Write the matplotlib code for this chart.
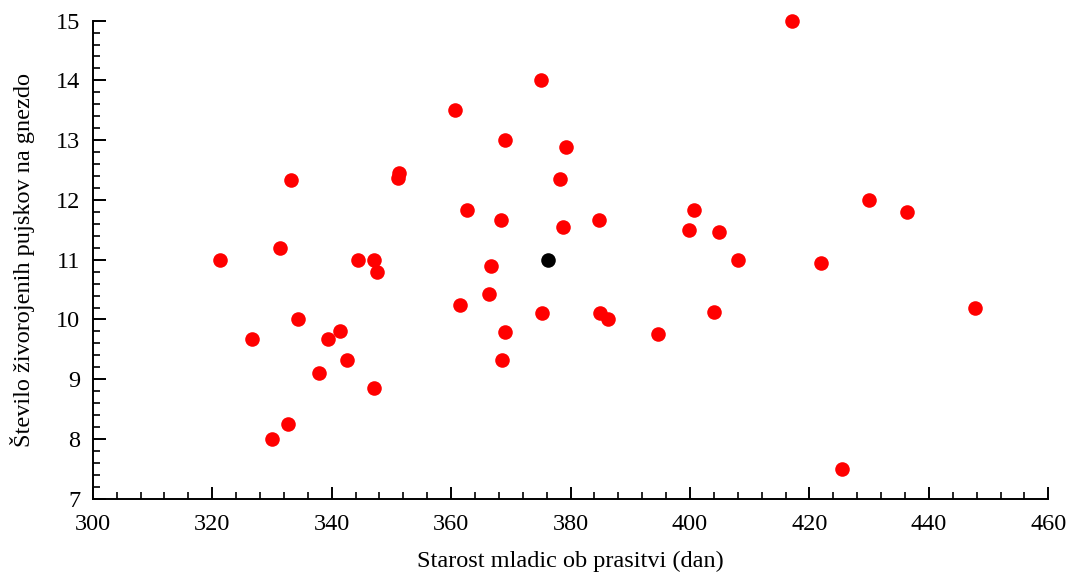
import matplotlib.pyplot as plt
from matplotlib.ticker import MultipleLocator

plt.rcParams['font.family'] = ['Liberation Serif', 'DejaVu Serif']

# starost mladic ob prasitvi (dan) / stevilo zivorojenih pujskov na gnezdo
starost = [321.3, 326.6, 330.0, 331.3, 332.7, 333.2, 334.3, 337.9, 339.4, 341.4,
           342.6, 344.4, 347.1, 347.1, 347.6, 351.2, 351.1, 360.6, 361.5, 362.6,
           366.3, 366.6, 368.3, 368.6, 369.0, 369.0, 375.0, 375.2, 378.3, 378.7,
           379.3, 384.7, 385.0, 386.2, 394.6, 399.8, 400.6, 404.1, 404.8, 408.1,
           417.0, 422.0, 425.4, 429.9, 436.3, 447.7]
pujski = [11.0, 9.67, 8.0, 11.2, 8.25, 12.33, 10.0, 9.1, 9.67, 9.8,
          9.33, 11.0, 11.0, 8.85, 10.8, 12.45, 12.37, 13.5, 10.25, 11.83,
          10.42, 10.89, 11.67, 9.33, 13.0, 9.79, 14.0, 10.1, 12.35, 11.55,
          12.89, 11.67, 10.1, 10.0, 9.75, 11.5, 11.83, 10.13, 11.46, 11.0,
          15.0, 10.94, 7.5, 12.0, 11.8, 10.2]

# povprecje
mean_x = [376.2]
mean_y = [11.0]

fig = plt.figure(figsize=(10.74, 5.72), dpi=100)
ax = fig.add_axes([0.0864, 0.128, 0.8897, 0.836])

ax.scatter(starost, pujski, s=110, color='#ff0000', linewidths=0, zorder=3, clip_on=False)
ax.scatter(mean_x, mean_y, s=110, color='black', linewidths=0, zorder=4)

ax.set_xlim(300, 460)
ax.set_ylim(7, 15)
ax.xaxis.set_major_locator(MultipleLocator(20))
ax.xaxis.set_minor_locator(MultipleLocator(4))
ax.yaxis.set_major_locator(MultipleLocator(1))
ax.yaxis.set_minor_locator(MultipleLocator(0.2))

for s in ['top', 'right']:
    ax.spines[s].set_visible(False)
for s in ['left', 'bottom']:
    ax.spines[s].set_linewidth(1.4)

ax.tick_params(which='major', direction='in', length=9, width=1.4, labelsize=17.5)
ax.tick_params(axis='x', which='major', pad=11)
ax.tick_params(axis='y', which='major', pad=9)
ax.tick_params(which='minor', direction='in', length=5, width=1.2)

ax.set_xlabel('Starost mladic ob prasitvi (dan)', fontsize=17.5, labelpad=11)
ax.set_ylabel('Število živorojenih pujskov na gnezdo', fontsize=17.5, labelpad=15)

fig.savefig('out.png', dpi=100)
